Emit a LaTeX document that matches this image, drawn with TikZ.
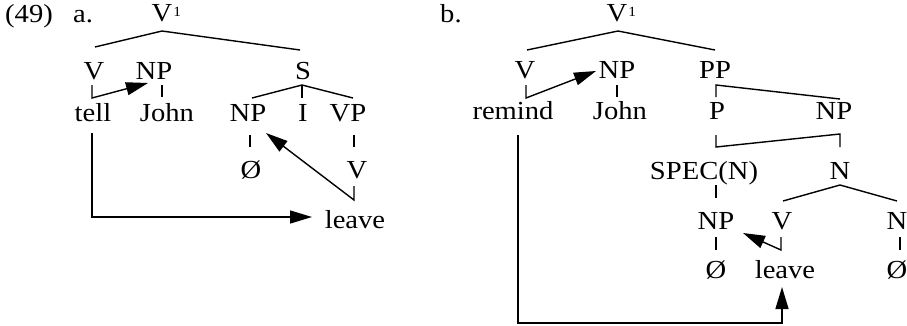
\documentclass[tikz,border=0pt]{standalone}
\usepackage{fontspec}
\setmainfont{Liberation Serif}[FakeStretch=1.1]
\usetikzlibrary{arrows.meta}
\begin{document}
\begin{tikzpicture}[x=1pt,y=-1pt,
  every node/.style={inner sep=0pt,anchor=base,font=\fontsize{26}{31}\selectfont},
  branch/.style={line width=1.4pt},
  move/.style={line width=1.4pt,-{Triangle[length=22pt,width=13pt]}},
]
\newcommand{\barone}{V\rlap{\kern1pt\raisebox{5pt}{\fontsize{14}{14}\selectfont 1}}}
\useasboundingbox (0,0) rectangle (907,325);

% ---------------- tree (a)
\node[anchor=base west] (num) at (5,22) {(49)};
\node[anchor=base west] (alab) at (73,22) {a.};
\node (aV1) at (162,21) {\barone};
\node (aV) at (94,79) {V};
\node (aNP) at (154,79) {NP};
\node (aS) at (303,79) {S};
\node (atell) at (93,121) {tell};
\node (aJohn) at (167,121) {John};
\node (aNP2) at (248,121) {NP};
\node (aI) at (303,121) {I};
\node (aVP) at (348,121) {VP};
\node (aNull) at (251,178) {Ø};
\node (aV2) at (357,178) {V};
\node (aleave) at (355,228) {leave};

\draw[branch] ([yshift=-10pt]aV1.base) -- ([xshift=1pt,yshift=32pt]aV.base);
\draw[branch] ([yshift=-10pt]aV1.base) -- ([xshift=-3pt,yshift=29pt]aS.base);
\draw[move] ([xshift=-2pt,yshift=-6pt]aV.base) -- ([xshift=-2pt,yshift=-19pt]aV.base)
  -- ([xshift=-6pt,yshift=-4pt]aNP.base);
\draw[branch] ([xshift=8pt,yshift=-6pt]aNP.base) -- ([xshift=-5pt,yshift=24pt]aJohn.base);
\draw[branch] ([xshift=-1pt,yshift=-6pt]aS.base) -- ([xshift=4pt,yshift=23pt]aNP2.base);
\draw[branch] ([xshift=-1pt,yshift=-6pt]aS.base) -- ([xshift=-1pt,yshift=23pt]aI.base);
\draw[branch] ([xshift=-1pt,yshift=-6pt]aS.base) -- ([xshift=5pt,yshift=23pt]aVP.base);
\draw[branch] ([xshift=2pt,yshift=-14pt]aNP2.base) -- ([xshift=-1pt,yshift=31pt]aNull.base);
\draw[branch] ([xshift=6pt,yshift=-14pt]aVP.base) -- ([xshift=-3pt,yshift=31pt]aV2.base);
\draw[move] ([xshift=-3pt,yshift=-8pt]aV2.base) -- ([xshift=-3pt,yshift=-22pt]aV2.base)
  -- ([xshift=18pt,yshift=-12pt]aNP2.base);
\draw[move] ([xshift=-1pt,yshift=-12pt]atell.base) |- ([xshift=-43pt,yshift=11pt]aleave.base);

% ---------------- tree (b)
\node[anchor=base west] (blab) at (440,22) {b.};
\node (bV1) at (617,21) {\barone};
\node (bV) at (525,78) {V};
\node (bNP) at (617,78) {NP};
\node (bPP) at (715,78) {PP};
\node (bremind) at (513,119) {remind};
\node (bJohn) at (620,119) {John};
\node (bP) at (717,119) {P};
\node (bNP2) at (834,119) {NP};
\node (bSPEC) at (704,179) {SPEC(N)};
\node (bN) at (840,179) {N};
\node (bNP3) at (716,229) {NP};
\node (bV3) at (782,229) {V};
\node (bN3) at (897,229) {N};
\node (bNull) at (716,278) {Ø};
\node (bleave) at (785,278) {leave};
\node (bNull2) at (897,278) {Ø};
\coordinate (bturn) at (782,323);

\draw[branch] ([xshift=1pt,yshift=-10pt]bV1.base) -- ([xshift=2pt,yshift=28pt]bV.base);
\draw[branch] ([xshift=1pt,yshift=-10pt]bV1.base) -- ([xshift=0pt,yshift=28pt]bPP.base);
\draw[move] ([xshift=1pt,yshift=-7pt]bV.base) -- ([xshift=1pt,yshift=-20pt]bV.base)
  -- ([xshift=-21pt,yshift=7pt]bNP.base);
\draw[branch] ([yshift=-7pt]bNP.base) -- ([xshift=-3pt,yshift=22pt]bJohn.base);
\draw[branch] ([xshift=6pt,yshift=20pt]bNP2.base) -- ([xshift=1pt,yshift=-7pt]bPP.base)
  -- ([xshift=-1pt,yshift=22pt]bP.base);
\draw[branch] ([xshift=-1pt,yshift=-16pt]bP.base) -- ([xshift=12pt,yshift=32pt]bSPEC.base)
  -- ([xshift=6pt,yshift=-15pt]bNP2.base) -- ([yshift=32pt]bN.base);
\draw[branch] ([xshift=12pt,yshift=-6pt]bSPEC.base) -- ([yshift=31pt]bNP3.base);
\draw[branch] ([yshift=-6pt]bN.base) -- ([xshift=1pt,yshift=28pt]bV3.base);
\draw[branch] ([yshift=-6pt]bN.base) -- ([yshift=28pt]bN3.base);
\draw[move] ([xshift=-1pt,yshift=-8pt]bV3.base) -- ([xshift=-1pt,yshift=-21pt]bV3.base)
  -- ([xshift=27pt,yshift=-4pt]bNP3.base);
\draw[branch] ([yshift=-8pt]bNP3.base) -- ([yshift=28pt]bNull.base);
\draw[branch] ([xshift=3pt,yshift=-8pt]bN3.base) -- ([xshift=3pt,yshift=28pt]bNull2.base);
\draw[move] ([xshift=5pt,yshift=-16pt]bremind.base) |- (bturn)
  -- ([xshift=-3pt,yshift=-9pt]bleave.base);
\end{tikzpicture}
\end{document}
